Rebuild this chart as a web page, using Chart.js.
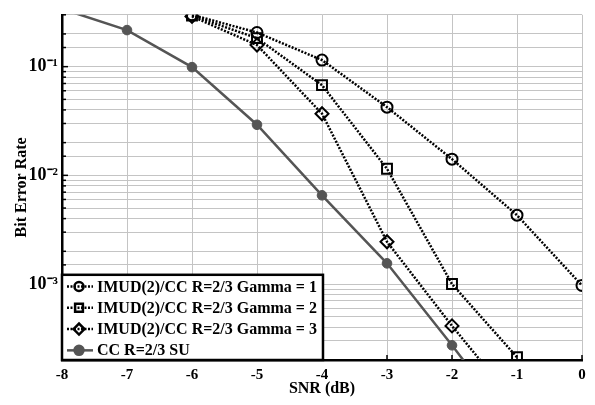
<!DOCTYPE html>
<html>
<head>
<meta charset="utf-8">
<script src="https://cdn.jsdelivr.net/npm/chart.js@4/dist/chart.umd.min.js"></script>
<style>
html, body { margin: 0; padding: 0; background: #fff; }
#wrap { width: 595px; height: 405px; }
</style>
</head>
<body>
<div id="wrap"><canvas id="myChart"></canvas></div>
<script>
// дані графіка
const snr = [-8, -7, -6, -5, -4, -3, -2, -1, 0];
const gamma1 = [null, null, 0.30, 0.206, 0.115, 0.0424, 0.0141, 0.0043, 0.00097];
const gamma2 = [null, null, 0.295, 0.183, 0.0676, 0.0115, 0.00100, 0.000212, null];
const gamma3 = [null, null, 0.29, 0.158, 0.0369, 0.00245, 0.000412, 0.000077, null];
const ccSU = [0.34, 0.217, 0.099, 0.0292, 0.00655, 0.00155, 0.000273, 0.000045, null];
const seriesNames = [
  'IMUD(2)/CC R=2/3 Gamma = 1',
  'IMUD(2)/CC R=2/3 Gamma = 2',
  'IMUD(2)/CC R=2/3 Gamma = 3',
  'CC R=2/3 SU'
];
const xTickValues = [-8, -7, -6, -5, -4, -3, -2, -1, 0];
const supDigits = { '-': '⁻', '0': '⁰', '1': '¹', '2': '²', '3': '³', '4': '⁴', '5': '⁵', '6': '⁶', '7': '⁷', '8': '⁸', '9': '⁹' };

const FONT = '"Liberation Serif", "Times New Roman", serif';

function pts(arr) {
  return snr.map((x, i) => ({ x: x, y: arr[i] }));
}

// легенда в рамці всередині області графіка + внутрішні риски
const boxLegend = {
  id: 'boxLegend',
  afterDatasetsDraw(chart) {
    const ctx = chart.ctx;
    const area = chart.chartArea;
    const xs = chart.scales.x, ys = chart.scales.y;
    ctx.save();
    // риски всередину
    ctx.strokeStyle = '#000';
    ctx.lineWidth = 1.5;
    ys.ticks.forEach(t => {
      const y = ys.getPixelForValue(t.value);
      const major = Math.abs(Math.log10(t.value) - Math.round(Math.log10(t.value))) < 1e-6;
      ctx.beginPath();
      ctx.moveTo(area.left, y);
      ctx.lineTo(area.left + (major ? 6 : 4), y);
      ctx.stroke();
    });
    xTickValues.forEach(v => {
      const x = xs.getPixelForValue(v);
      ctx.beginPath();
      ctx.moveTo(x, area.bottom);
      ctx.lineTo(x, area.bottom - 5);
      ctx.stroke();
    });

    // рамка легенди
    ctx.font = 'bold 16px ' + FONT;
    const textX = area.left + 35;
    let maxW = 0;
    chart.data.datasets.forEach(d => { maxW = Math.max(maxW, ctx.measureText(d.label).width); });
    const rowH = 21.3;
    const boxH = rowH * chart.data.datasets.length;
    const boxTop = area.bottom - boxH;
    const boxRight = textX + maxW + 6;
    ctx.fillStyle = '#fff';
    ctx.fillRect(area.left, boxTop, boxRight - area.left, boxH);
    ctx.strokeStyle = '#000';
    ctx.lineWidth = 2.5;
    ctx.setLineDash([]);
    ctx.strokeRect(area.left, boxTop, boxRight - area.left, boxH);

    chart.data.datasets.forEach((d, i) => {
      const y = boxTop + rowH / 2 + i * rowH + 1;
      ctx.save();
      ctx.strokeStyle = d.borderColor;
      ctx.lineWidth = d.borderWidth;
      ctx.setLineDash(d.borderDash || []);
      ctx.beginPath();
      ctx.moveTo(area.left + 5, y);
      ctx.lineTo(area.left + 31, y);
      ctx.stroke();
      ctx.setLineDash([]);
      ctx.fillStyle = d.pointBackgroundColor;
      ctx.strokeStyle = d.pointBorderColor;
      Chart.helpers.drawPoint(ctx, {
        pointStyle: d.pointStyle,
        radius: d.pointStyle === 'circle' ? 4.5 : 5.5,
        borderWidth: d.pointBorderWidth,
        rotation: 0
      }, area.left + 17, y);
      ctx.restore();
      ctx.fillStyle = '#000';
      ctx.textBaseline = 'middle';
      ctx.textAlign = 'left';
      ctx.fillText(d.label, textX, y + 1);
    });
    ctx.restore();
  }
};

function dotted(label, data, style, r) {
  return {
    label: label,
    data: pts(data),
    borderColor: '#000',
    borderWidth: 2.5,
    borderDash: [2, 1.5],
    pointStyle: style,
    pointRadius: r,
    pointBorderWidth: 2,
    pointBorderColor: '#000',
    pointBackgroundColor: 'rgba(255,255,255,0)',
    spanGaps: false
  };
}

const ctx = document.getElementById('myChart').getContext('2d');
const myChart = new Chart(ctx, {
  type: 'line',
  data: {
    datasets: [
      dotted(seriesNames[0], gamma1, 'circle', 5.5),
      dotted(seriesNames[1], gamma2, 'rect', 7),
      dotted(seriesNames[2], gamma3, 'rectRot', 6.5),
      {
        label: seriesNames[3],
        data: pts(ccSU),
        borderColor: '#555',
        borderWidth: 2.5,
        pointStyle: 'circle',
        pointRadius: 4.8,
        pointBorderWidth: 1,
        pointBorderColor: '#555',
        pointBackgroundColor: '#555'
      }
    ]
  },
  plugins: [boxLegend],
  options: {
    responsive: true,
    maintainAspectRatio: false,
    animation: false,
    layout: { padding: { top: 5, right: 13, left: 0, bottom: 0 } },
    plugins: { legend: { display: false }, tooltip: { enabled: false } },
    scales: {
      x: {
        type: 'linear',
        min: -8,
        max: 0,
        afterFit: s => { s.height = 45; },
        afterBuildTicks: s => { s.ticks = xTickValues.map(v => ({ value: v })); },
        ticks: {
          color: '#000',
          font: { family: FONT, size: 15, weight: 'bold' },
          padding: 6,
          maxRotation: 0
        },
        grid: { color: '#c4c4c4', lineWidth: 1, drawTicks: false },
        border: { color: '#000', width: 2.5 },
        title: {
          display: true,
          text: 'SNR (dB)',
          color: '#000',
          font: { family: FONT, size: 16, weight: 'bold' },
          padding: { top: 0, bottom: 7 }
        }
      },
      y: {
        type: 'logarithmic',
        min: 0.0002,
        max: 0.3,
        afterFit: s => { s.width = 62; },
        ticks: {
          autoSkip: false,
          color: '#000',
          font: { family: FONT, size: 18, weight: 'bold' },
          padding: 4,
          callback: function (v) {
            const e = Math.log10(v);
            if (Math.abs(e - Math.round(e)) > 1e-6) return '';
            const s = String(Math.round(e)).split('').map(c => supDigits[c]).join('');
            return '10' + s;
          }
        },
        grid: { color: '#c4c4c4', lineWidth: 1, drawTicks: false },
        border: { color: '#000', width: 2.5 },
        title: {
          display: true,
          text: 'Bit Error Rate',
          color: '#000',
          font: { family: FONT, size: 16, weight: 'bold' },
          padding: { top: 12, bottom: 0 }
        }
      }
    }
  }
});
</script>
</body>
</html>
